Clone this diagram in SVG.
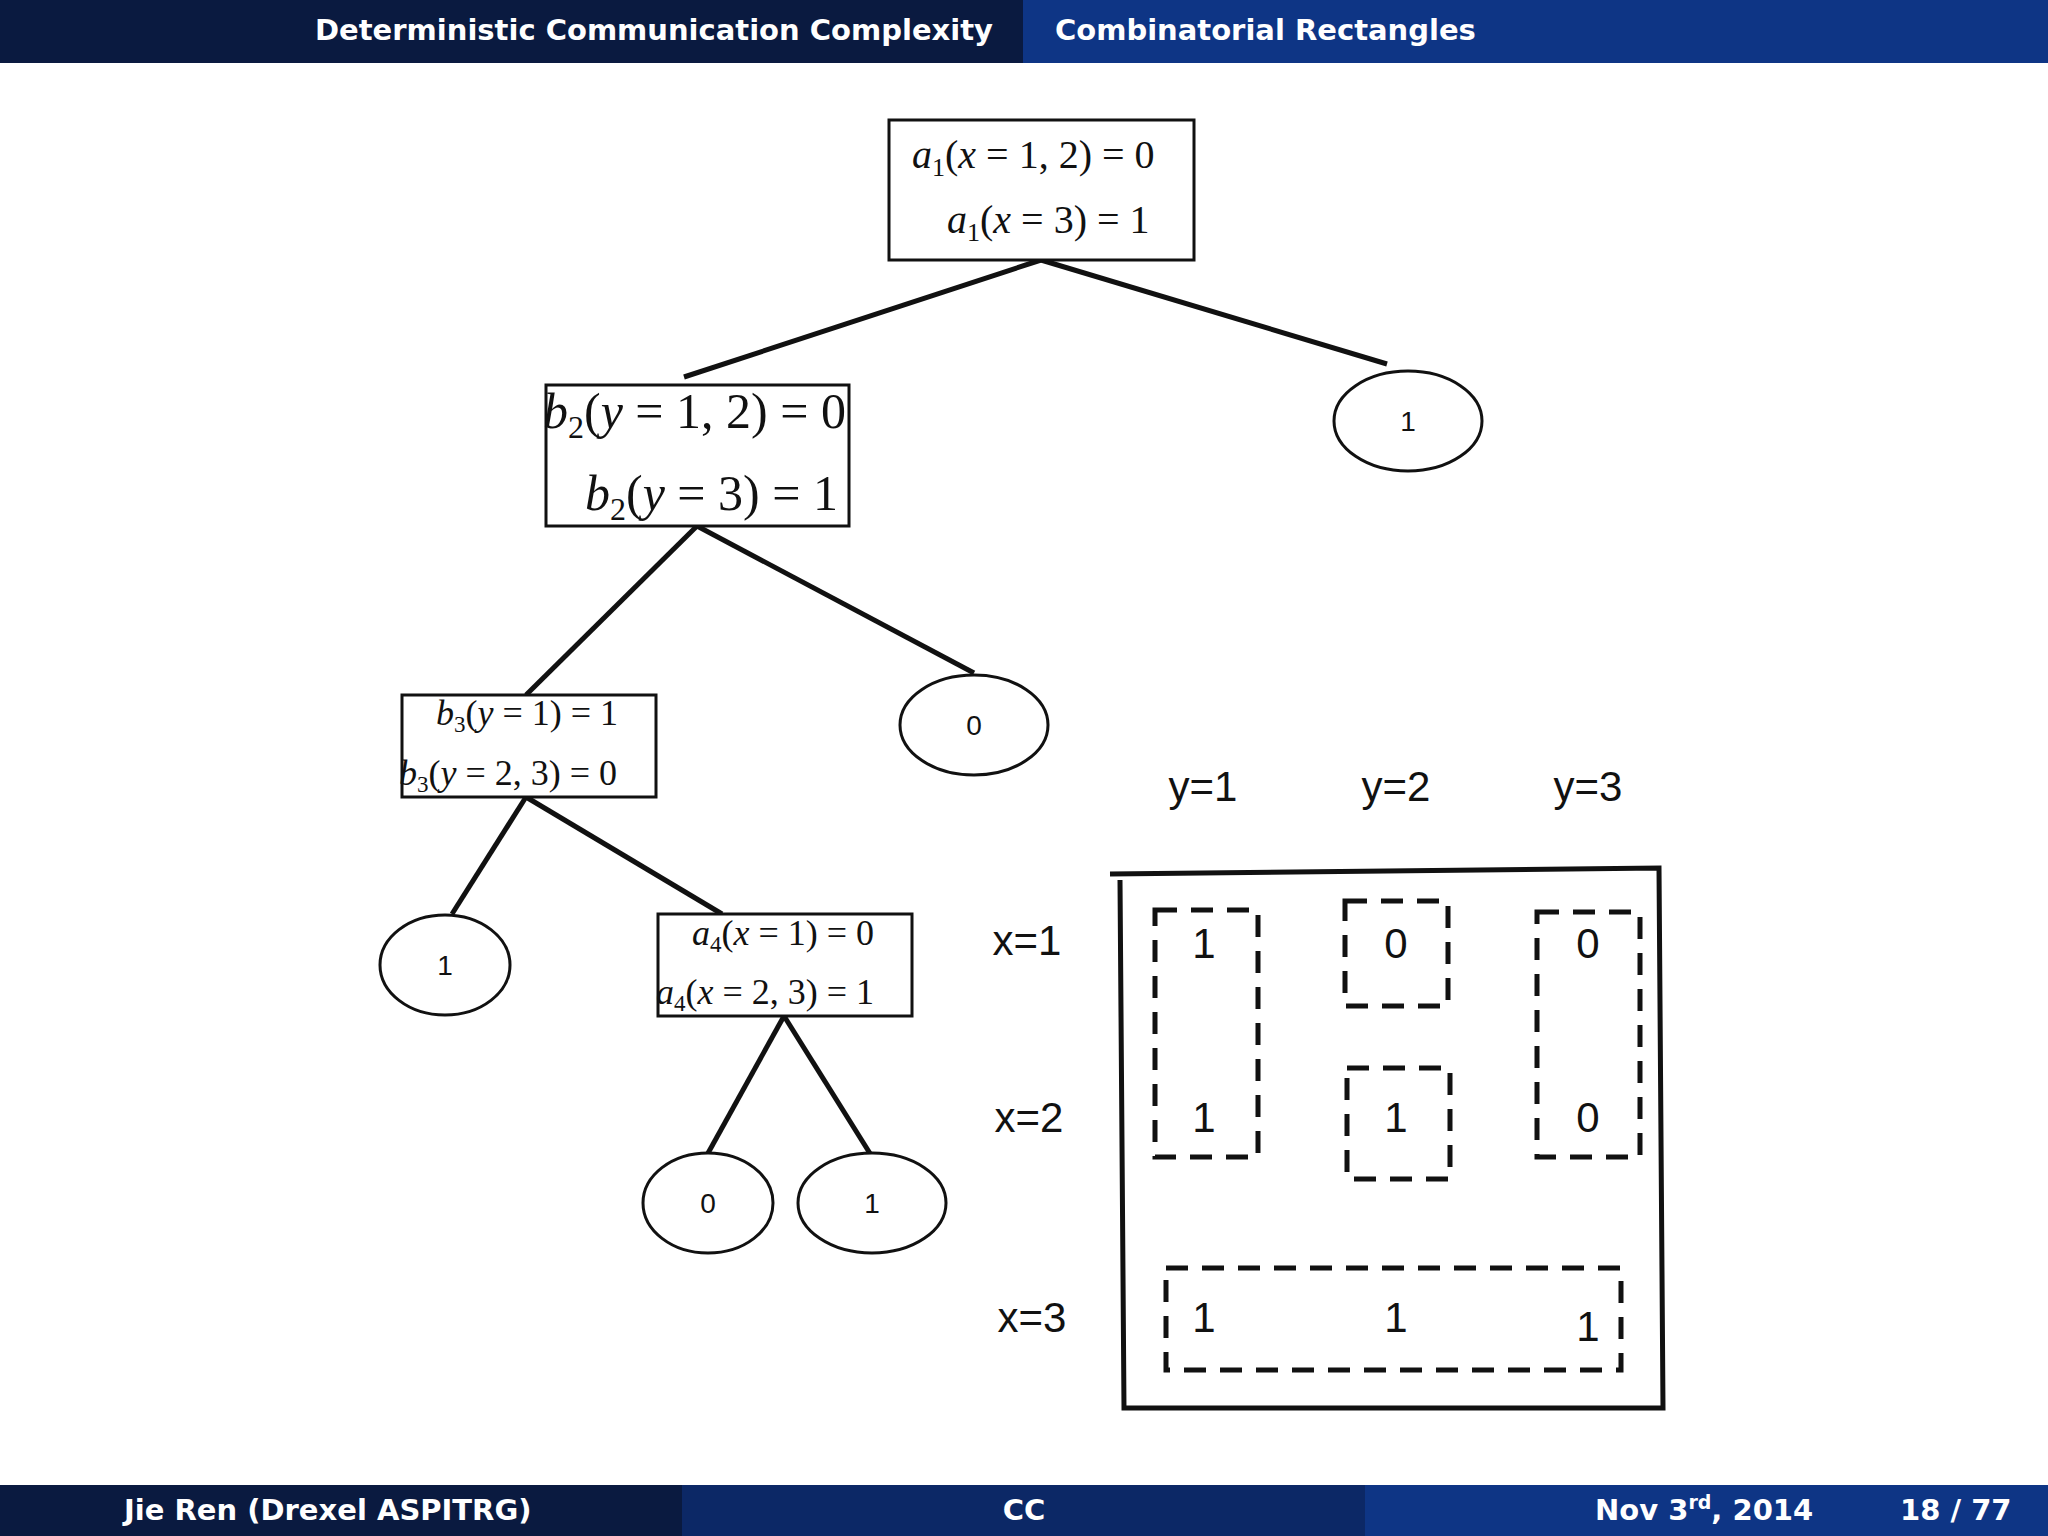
<svg xmlns="http://www.w3.org/2000/svg" width="2048" height="1536" viewBox="0 0 2048 1536">
<style>
.hd{font-family:"DejaVu Sans","Liberation Sans",sans-serif;font-weight:bold;font-size:29px;fill:#fff}
.m{font-family:"Liberation Serif",serif;fill:#111}
.i{font-style:italic}
.box{fill:#fff;stroke:#111;stroke-width:3}
.el{fill:#fff;stroke:#111;stroke-width:3}
.lb{font-family:"Liberation Sans",sans-serif;font-size:28px;fill:#111;text-anchor:middle}
.ml{font-family:"Liberation Sans",sans-serif;font-size:42px;fill:#111;text-anchor:middle}
.dash{fill:none;stroke:#111;stroke-width:5;stroke-dasharray:22,14}
.ln{stroke:#111;stroke-width:5;fill:none}
</style>
<rect width="2048" height="1536" fill="#fff"/>
<rect x="0" y="0" width="1023" height="63" fill="#0a1a40"/>
<rect x="1023" y="0" width="1025" height="63" fill="#0e3585"/>
<text class="hd" x="993" y="40" text-anchor="end">Deterministic Communication Complexity</text>
<text class="hd" x="1055" y="40">Combinatorial Rectangles</text>
<rect x="0" y="1485" width="682" height="51" fill="#0a1a40"/>
<rect x="682" y="1485" width="683" height="51" fill="#0c2866"/>
<rect x="1365" y="1485" width="683" height="51" fill="#0e3585"/>
<text class="hd" x="124" y="1520">Jie Ren  (Drexel ASPITRG)</text>
<text class="hd" x="1024" y="1520" text-anchor="middle">CC</text>
<text class="hd" x="1595" y="1520">Nov 3<tspan font-size="19" dy="-11">rd</tspan><tspan dy="11">, 2014</tspan></text>
<text class="hd" x="1900" y="1520">18 / 77</text>
<g id="connectors">
<line class="ln" x1="1041" y1="260" x2="684" y2="377"/>
<line class="ln" x1="1041" y1="260" x2="1387" y2="364"/>
<line class="ln" x1="697" y1="526" x2="526" y2="695"/>
<line class="ln" x1="697" y1="526" x2="974" y2="673"/>
<line class="ln" x1="526" y1="797" x2="452" y2="914"/>
<line class="ln" x1="526" y1="797" x2="722" y2="914"/>
<line class="ln" x1="784" y1="1016" x2="707" y2="1155"/>
<line class="ln" x1="784" y1="1016" x2="871" y2="1155"/>
</g>
<g id="n1"><rect class="box" x="889" y="120" width="305" height="140"/>
<text class="m" font-size="40" x="912" y="168"><tspan class="i">a</tspan><tspan font-size="26" dy="8">1</tspan><tspan dy="-8">(</tspan><tspan class="i">x</tspan> = 1, 2) = 0</text>
<text class="m" font-size="40" x="947" y="233"><tspan class="i">a</tspan><tspan font-size="26" dy="8">1</tspan><tspan dy="-8">(</tspan><tspan class="i">x</tspan> = 3) = 1</text></g>
<g id="n2"><rect class="box" x="546" y="385" width="303" height="141"/>
<text class="m" font-size="50" x="543" y="428"><tspan class="i">b</tspan><tspan font-size="32" dy="10">2</tspan><tspan dy="-10">(</tspan><tspan class="i">y</tspan> = 1, 2) = 0</text>
<text class="m" font-size="50" x="585" y="510"><tspan class="i">b</tspan><tspan font-size="32" dy="10">2</tspan><tspan dy="-10">(</tspan><tspan class="i">y</tspan> = 3) = 1</text></g>
<g id="n3"><rect class="box" x="402" y="695" width="254" height="102"/>
<text class="m" font-size="36" x="436" y="725"><tspan class="i">b</tspan><tspan font-size="23" dy="7">3</tspan><tspan dy="-7">(</tspan><tspan class="i">y</tspan> = 1) = 1</text>
<text class="m" font-size="36" x="399" y="785"><tspan class="i">b</tspan><tspan font-size="23" dy="7">3</tspan><tspan dy="-7">(</tspan><tspan class="i">y</tspan> = 2, 3) = 0</text></g>
<g id="n4"><rect class="box" x="658" y="914" width="254" height="102"/>
<text class="m" font-size="36" x="692" y="945"><tspan class="i">a</tspan><tspan font-size="23" dy="7">4</tspan><tspan dy="-7">(</tspan><tspan class="i">x</tspan> = 1) = 0</text>
<text class="m" font-size="36" x="656" y="1004"><tspan class="i">a</tspan><tspan font-size="23" dy="7">4</tspan><tspan dy="-7">(</tspan><tspan class="i">x</tspan> = 2, 3) = 1</text></g>
<g id="l1"><ellipse class="el" cx="1408" cy="421" rx="74" ry="50"/><text class="lb" x="1408" y="431">1</text></g>
<g id="l2"><ellipse class="el" cx="974" cy="725" rx="74" ry="50"/><text class="lb" x="974" y="735">0</text></g>
<g id="l3"><ellipse class="el" cx="445" cy="965" rx="65" ry="50"/><text class="lb" x="445" y="975">1</text></g>
<g id="l4"><ellipse class="el" cx="708" cy="1203" rx="65" ry="50"/><text class="lb" x="708" y="1213">0</text></g>
<g id="l5"><ellipse class="el" cx="872" cy="1203" rx="74" ry="50"/><text class="lb" x="872" y="1213">1</text></g>
<g id="matrix">
<text class="ml" x="1203" y="801">y=1</text><text class="ml" x="1396" y="801">y=2</text><text class="ml" x="1588" y="801">y=3</text>
<text class="ml" x="1027" y="955">x=1</text><text class="ml" x="1029" y="1132">x=2</text><text class="ml" x="1032" y="1332">x=3</text>
<path class="ln" d="M1110,874 L1659,868 L1663,1408 L1124,1408 L1120,880"/>
<rect class="dash" x="1155" y="910" width="103" height="247"/>
<rect class="dash" x="1345" y="901" width="103" height="105"/>
<rect class="dash" x="1347" y="1068" width="103" height="111"/>
<rect class="dash" x="1537" y="912" width="103" height="245"/>
<rect class="dash" x="1166" y="1268" width="455" height="102"/>
<text class="ml" x="1204" y="958">1</text><text class="ml" x="1204" y="1132">1</text>
<text class="ml" x="1396" y="958">0</text><text class="ml" x="1396" y="1132">1</text>
<text class="ml" x="1588" y="958">0</text><text class="ml" x="1588" y="1132">0</text>
<text class="ml" x="1204" y="1332">1</text><text class="ml" x="1396" y="1332">1</text><text class="ml" x="1588" y="1341">1</text>
</g>
</svg>
